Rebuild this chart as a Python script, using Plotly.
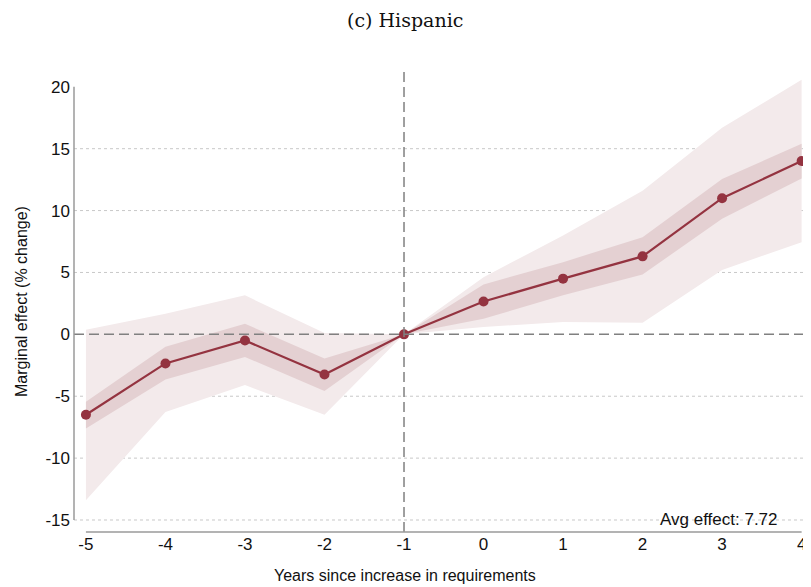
import plotly.graph_objects as go

# event-study estimates
years = [-5, -4, -3, -2, -1, 0, 1, 2, 3, 4]
effect = [-6.5, -2.35, -0.5, -3.25, 0.0, 2.65, 4.5, 6.3, 11.0, 14.0]
ci95_lo = [-13.4, -6.27, -4.1, -6.5, 0.0, 0.6, 1.0, 0.94, 5.2, 7.45]
ci95_hi = [0.38, 1.67, 3.15, 0.1, 0.0, 4.62, 7.98, 11.6, 16.7, 20.56]
ci68_lo = [-7.6, -3.65, -1.83, -4.57, 0.0, 1.26, 3.15, 4.84, 9.33, 12.6]
ci68_hi = [-5.45, -1.0, 0.86, -1.96, 0.0, 4.03, 5.83, 7.85, 12.55, 15.4]
ytick_vals = [-15, -10, -5, 0, 5, 10, 15, 20]
grid_vals = [-15, -10, -5, 5, 10, 15]
avg_effect = 7.72

line_col = '#943340'
outer_col = '#F3EAEB'
inner_col = '#E4D0D2'
axis_col = '#9a9a9a'
font_fam = 'Liberation Sans Narrow, Arial Narrow, Liberation Sans, sans-serif'
tick_font = dict(family=font_fam, size=17, color='#111')

xr = [-5.15, 4.03]
yr = [-15.97, 21.6]

fig = go.Figure()

# outer band
fig.add_trace(go.Scatter(x=years + years[::-1], y=ci95_hi + ci95_lo[::-1],
                         fill='toself', fillcolor=outer_col, line=dict(width=0),
                         mode='lines', hoverinfo='skip', showlegend=False))
# inner band
fig.add_trace(go.Scatter(x=years + years[::-1], y=ci68_hi + ci68_lo[::-1],
                         fill='toself', fillcolor=inner_col, line=dict(width=0),
                         mode='lines', hoverinfo='skip', showlegend=False))
# point estimates
fig.add_trace(go.Scatter(x=years, y=effect, mode='lines+markers',
                         line=dict(color=line_col, width=2.2),
                         marker=dict(color=line_col, size=10),
                         showlegend=False))

shapes = []
for g in grid_vals:
    shapes.append(dict(type='line', xref='x', yref='y', x0=xr[0], x1=xr[1], y0=g, y1=g,
                       line=dict(color='#c8c8c8', width=1, dash='dot'), layer='below'))
# reference lines
shapes.append(dict(type='line', xref='x', yref='y', x0=xr[0], x1=xr[1], y0=0, y1=0,
                   line=dict(color='#808080', width=1.5, dash='10px,5px')))
shapes.append(dict(type='line', xref='x', yref='paper', x0=-1, x1=-1, y0=0, y1=1,
                   line=dict(color='#808080', width=1.5, dash='10px,5px')))
# axis lines (Stata style, spanning the data range)
shapes.append(dict(type='line', xref='paper', yref='y', x0=0, x1=0, y0=-15, y1=20,
                   line=dict(color=axis_col, width=1.5)))
shapes.append(dict(type='line', xref='x', yref='paper', x0=-5, x1=4, y0=0, y1=0,
                   line=dict(color=axis_col, width=1.5)))

# margins allow for the 8px page margin around the figure
fig.update_layout(
    width=811, height=587,
    margin=dict(l=66, r=15, t=59, b=63),
    plot_bgcolor='white', paper_bgcolor='white',
    shapes=shapes,
    xaxis=dict(range=xr, tickvals=years, ticktext=[str(v) for v in years],
               showgrid=False, zeroline=False, showline=False, ticks='',
               tickfont=tick_font, automargin=False),
    yaxis=dict(range=yr, tickvals=ytick_vals, ticktext=[str(v) for v in ytick_vals],
               showgrid=False, zeroline=False, showline=False, ticks='',
               tickfont=tick_font, automargin=False, ticklabelstandoff=3),
    annotations=[
        dict(x=0.4529, y=1, xref='paper', yref='paper', yanchor='middle', xanchor='center',
             yshift=47, text='(c) Hispanic', showarrow=False,
             font=dict(family='DejaVu Serif, Liberation Serif, serif', size=19, color='#111')),
        dict(x=0.4529, y=-0.0925, xref='paper', yref='paper', xanchor='center', yanchor='middle',
             text='Years since increase in requirements', showarrow=False,
             font=dict(family=font_fam, size=16, color='#111')),
        dict(x=-0.071, y=0.495, xref='paper', yref='paper', xanchor='center', yanchor='middle',
             textangle=-90, text='Marginal effect (% change)', showarrow=False,
             font=dict(family=font_fam, size=16, color='#111')),
        dict(x=4, y=-15, xref='x', yref='y', xanchor='right', yanchor='middle',
             xshift=-22, text='Avg effect: %.2f' % avg_effect, showarrow=False,
             font=dict(family=font_fam, size=17, color='#111')),
    ],
)

fig.write_html("out.html")
